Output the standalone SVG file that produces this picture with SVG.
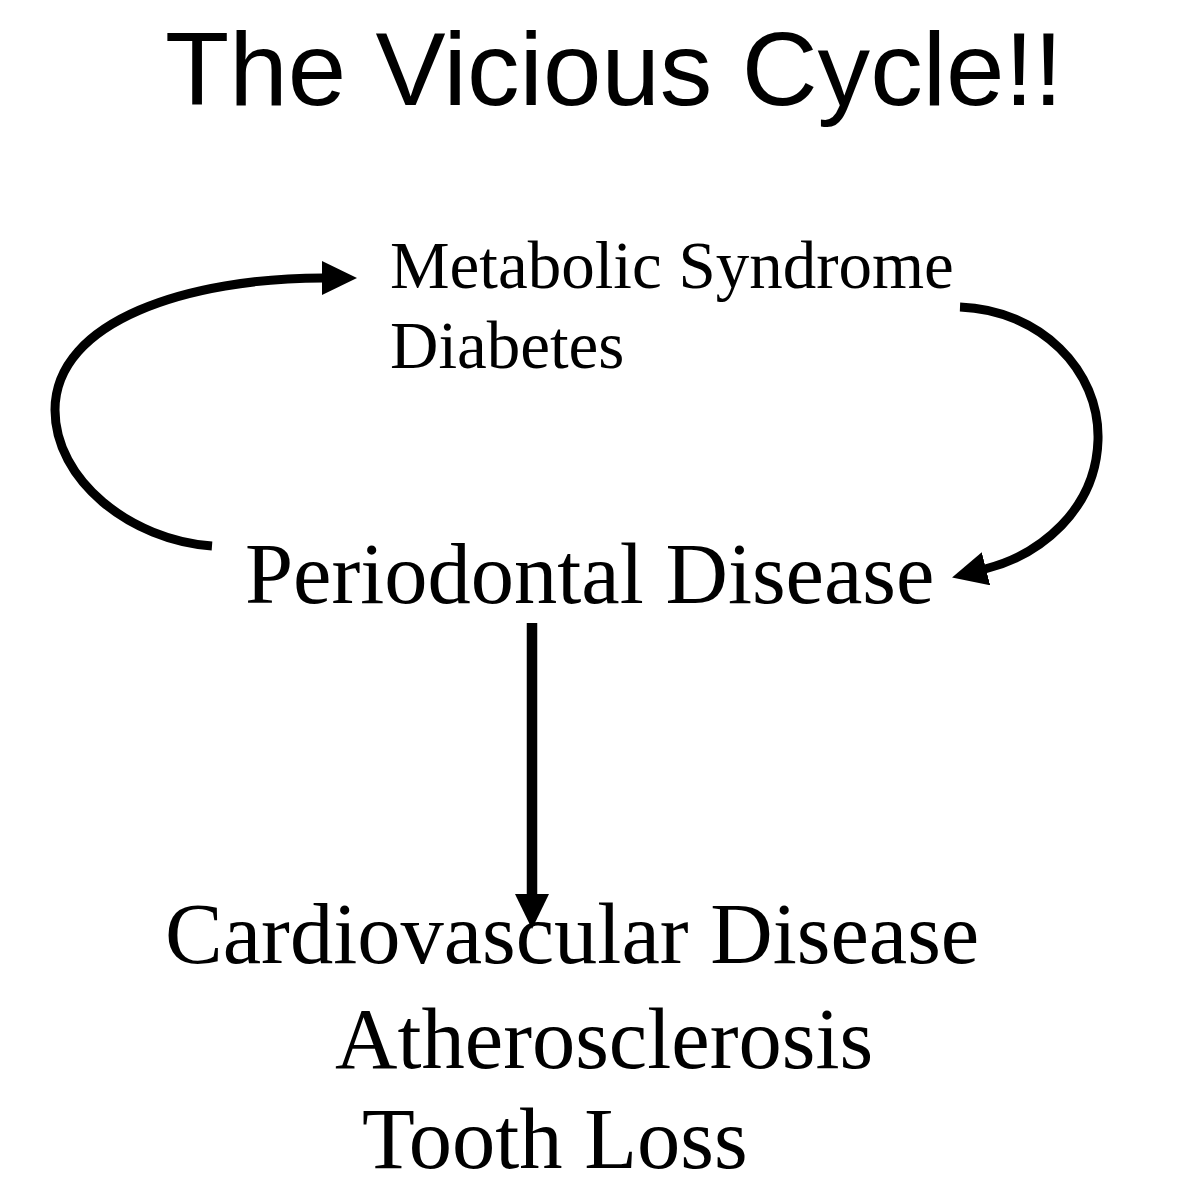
<svg xmlns="http://www.w3.org/2000/svg" width="1188" height="1200" viewBox="0 0 1188 1200">
  <style>
    .title { font-family: "Liberation Sans", Arial, sans-serif; font-size: 104px; fill: #000; }
    .small { font-family: "Liberation Serif", "Times New Roman", serif; font-size: 67px; fill: #000; }
    .big { font-family: "Liberation Serif", "Times New Roman", serif; font-size: 86.5px; fill: #000; }
    .conn { fill: none; stroke: #000; stroke-width: 9; stroke-linecap: butt; marker-end: url(#arrow); }
  </style>
  <defs>
    <marker id="arrow" markerUnits="userSpaceOnUse" markerWidth="36" markerHeight="34" refX="1" refY="17" orient="auto" viewBox="0 0 36 34">
      <path d="M0,0 L35,17 L0,34 z" fill="#000"/>
    </marker>
  </defs>
  <rect width="1188" height="1200" fill="#fff"/>
  <g id="title">
    <text class="title" x="165" y="105" textLength="898" lengthAdjust="spacingAndGlyphs">The Vicious Cycle!!</text>
  </g>
  <g id="node-metabolic">
    <text class="small" x="390" y="288">Metabolic Syndrome</text>
    <text class="small" x="390" y="368">Diabetes</text>
  </g>
  <g id="node-periodontal">
    <text class="big" x="245" y="603">Periodontal Disease</text>
  </g>
  <g id="node-cardio">
    <text class="big" x="165" y="963">Cardiovascular Disease</text>
    <text class="big" x="335" y="1068">Atherosclerosis</text>
    <text class="big" x="362" y="1168">Tooth Loss</text>
  </g>
  <g id="connectors">
    <path class="conn" d="M212,546 C130,540 55,480 55,410 C55,320 190,278 323,278"/>
    <path class="conn" d="M960,307 C1040,310 1100,370 1098,440 C1096,510 1040,555 985,569"/>
    <path class="conn" style="stroke-width:10.5" d="M532,623 L532,895"/>
  </g>
</svg>
